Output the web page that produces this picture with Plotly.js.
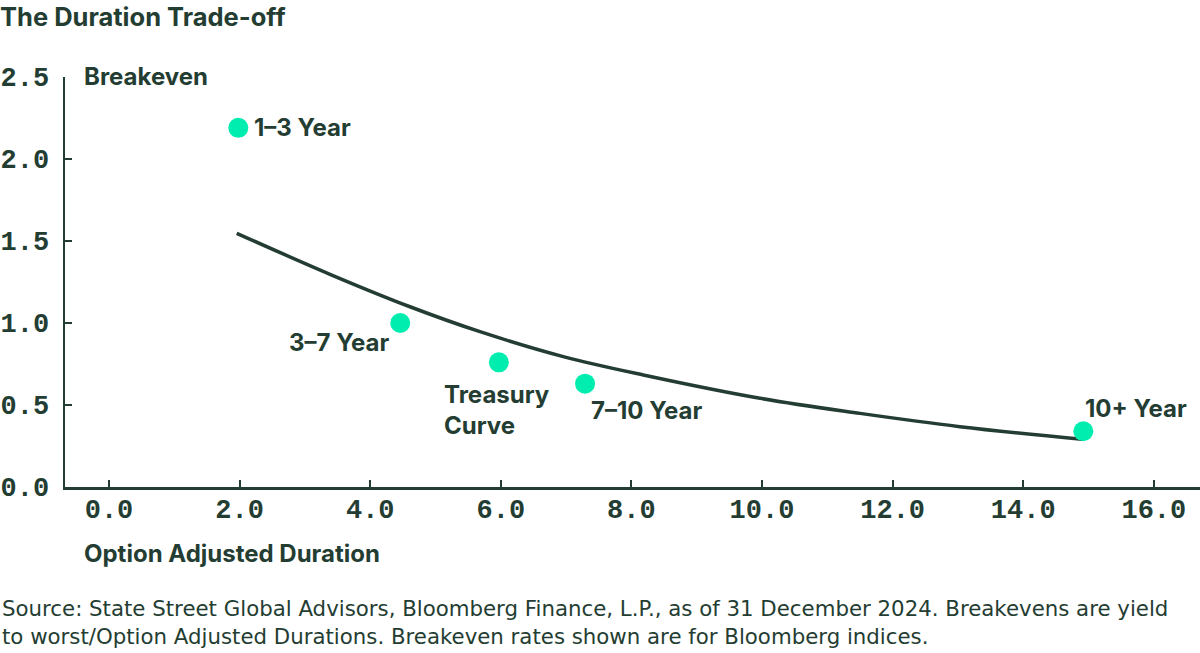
<!DOCTYPE html>
<html>
<head>
<meta charset="utf-8">
<script src="https://cdn.plot.ly/plotly-3.0.1.min.js"></script>
<style>html,body{margin:0;padding:0;background:#fff;}#chart{width:1200px;height:653px;}</style>
</head>
<body>
<div id="chart"></div>
<script>
// Index points (Option Adjusted Duration vs Breakeven)
const indexNames = ["1–3 Year", "3–7 Year", "Treasury<br>Curve", "7–10 Year", "10+ Year"];
const indexDuration = [1.98, 4.46, 5.97, 7.29, 14.92];
const indexBreakeven = [2.19, 1.00, 0.76, 0.63, 0.34];

// Trend curve
const curveDuration = [1.956, 3.384, 4.609, 5.681, 6.957, 8.182, 9.969, 11.50, 13.03, 14.90];
const curveBreakeven = [1.547, 1.297, 1.099, 0.947, 0.795, 0.683, 0.541, 0.449, 0.368, 0.291];

const xTicks = [0, 2, 4, 6, 8, 10, 12, 14, 16];
const yTicks = [0, 0.5, 1.0, 1.5, 2.0, 2.5];

const DARK = "#243d32";
const MINT = "#00EDB0";
const HEAD = "Inter, 'Noto Sans', sans-serif";
const BODY = "'DejaVu Sans', sans-serif";
const MONO = "'Liberation Mono', 'DejaVu Sans Mono', monospace";

// label placement offsets (pixels)
const labelOpts = [
  {xanchor: "left", yanchor: "middle", xshift: 14, yshift: 0},
  {xanchor: "right", yanchor: "middle", xshift: -8, yshift: -19},
  {xanchor: "center", yanchor: "top", xshift: -2, yshift: -16},
  {xanchor: "left", yanchor: "middle", xshift: 4, yshift: -27},
  {xanchor: "left", yanchor: "middle", xshift: 0, yshift: 23}
];

const traces = [
  {
    x: curveDuration, y: curveBreakeven, type: "scatter", mode: "lines",
    line: {color: DARK, width: 3.5, shape: "spline", smoothing: 1},
    hoverinfo: "skip", showlegend: false
  },
  {
    x: indexDuration, y: indexBreakeven, type: "scatter", mode: "markers",
    marker: {color: MINT, size: 20},
    text: indexNames, showlegend: false
  }
];

const annotations = indexNames.map((n, i) => Object.assign({
  x: indexDuration[i], y: indexBreakeven[i], xref: "x", yref: "y",
  text: n, showarrow: false, align: "left",
  font: {family: HEAD, size: 24, color: DARK, weight: 700}
}, labelOpts[i]));

const W = 1135, H = 410, L = 65, T = 77;
function px(x){ return (x - L) / W; }
function py(y){ return (T + H - y) / H; }

annotations.push({
  xref: "paper", yref: "paper", x: px(82), y: py(76), xanchor: "left", yanchor: "middle",
  text: "Breakeven", showarrow: false,
  font: {family: HEAD, size: 24, color: DARK, weight: 700}
});
annotations.push({
  xref: "paper", yref: "paper", x: px(82), y: py(553), xanchor: "left", yanchor: "middle",
  text: "Option Adjusted Duration", showarrow: false,
  font: {family: HEAD, size: 24, color: DARK, weight: 700}
});
annotations.push({
  xref: "paper", yref: "paper", x: px(0), y: py(608), xanchor: "left", yanchor: "middle",
  text: "Source: State Street Global Advisors, Bloomberg Finance, L.P., as of 31 December 2024. Breakevens are yield",
  showarrow: false, align: "left",
  font: {family: BODY, size: 21.3, color: DARK}
});
annotations.push({
  xref: "paper", yref: "paper", x: px(0), y: py(636), xanchor: "left", yanchor: "middle",
  text: "to worst/Option Adjusted Durations. Breakeven rates shown are for Bloomberg indices.",
  showarrow: false, align: "left",
  font: {family: BODY, size: 21.3, color: DARK}
});

const layout = {
  width: 1200, height: 653,
  margin: {l: L, r: 0, t: T, b: 653 - T - H, pad: 0},
  paper_bgcolor: "#fff", plot_bgcolor: "#fff",
  title: {
    text: "<b>The Duration Trade-off</b>", xref: "container", yref: "container",
    x: 0, xanchor: "left", y: 1 - 17/653, yanchor: "middle",
    font: {family: HEAD, size: 25.5, color: DARK}
  },
  xaxis: {
    range: [-0.674, 16.707], tickvals: xTicks, tickformat: ".1f",
    showgrid: false, zeroline: false, showline: true, linecolor: DARK, linewidth: 2.5,
    ticks: "inside", ticklen: 7, tickwidth: 2, tickcolor: DARK,
    tickfont: {family: MONO, size: 27, color: DARK, weight: 700},
    ticklabelstandoff: -4, fixedrange: true
  },
  yaxis: {
    range: [0, 2.5], tickvals: yTicks, tickformat: ".1f",
    showgrid: false, zeroline: false, showline: true, linecolor: DARK, linewidth: 2.5,
    ticks: "inside", ticklen: 7, tickwidth: 2, tickcolor: DARK,
    tickfont: {family: MONO, size: 27, color: DARK, weight: 700},
    ticklabelstandoff: 8, fixedrange: true
  },
  annotations: annotations,
  showlegend: false
};

Plotly.newPlot("chart", traces, layout, {displayModeBar: false, staticPlot: true});
</script>
</body>
</html>
